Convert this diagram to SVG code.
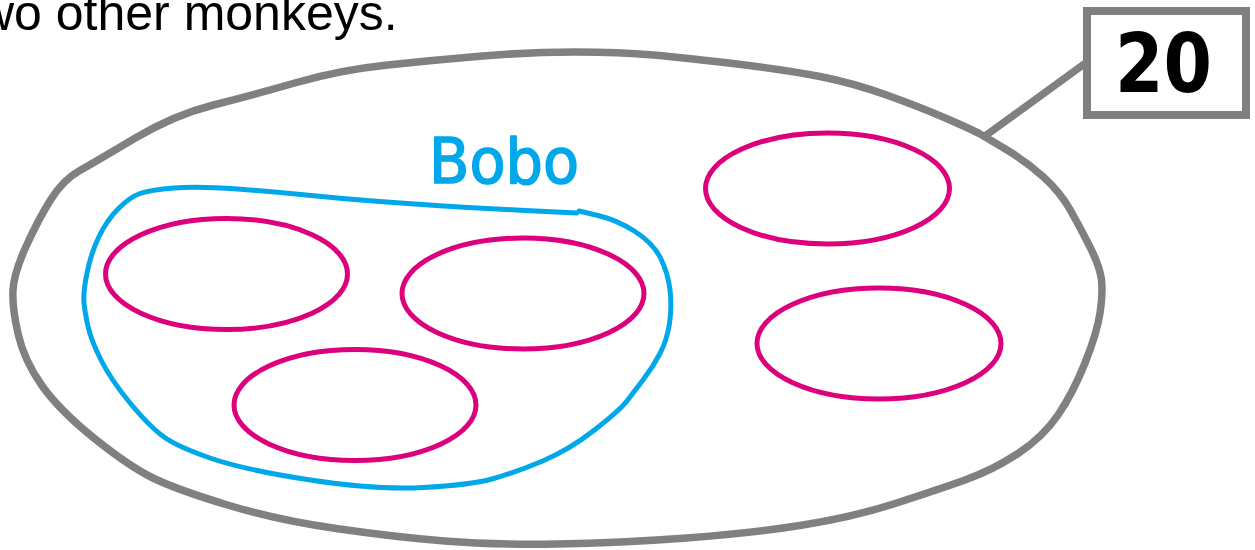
<svg xmlns="http://www.w3.org/2000/svg" width="1255" height="550" viewBox="0 0 1255 550">
<style>
.gray{fill:none;stroke:#808080;stroke-width:7.5;stroke-linejoin:round;stroke-linecap:round}
.blue{fill:none;stroke:#00A8EA;stroke-width:5;stroke-linejoin:round;stroke-linecap:round}
.pink{fill:none;stroke:#DC007D;stroke-width:5}
</style>
<rect width="1255" height="550" fill="#ffffff"/>
<text x="-22" y="30" font-family="Liberation Sans, Arial, sans-serif" font-size="50" fill="#000">wo other monkeys.</text>
<g id="connectors">
<line x1="985" y1="136" x2="1087" y2="62" class="gray"/>
</g>
<g id="group-all">
<path class="gray" d="M 653.5,55 Q 687,58 737,64 Q 787,70 820,76.5 Q 853,83 886.5,95 Q 920,107 946.5,118.5 Q 973,130 980,134 Q 987,138 1007,150 Q 1027,162 1043.5,177 Q 1060,192 1070,209.5 Q 1080,227 1090,247 Q 1100,267 1101.5,280 Q 1103,293 1100,313 Q 1097,333 1085,363 Q 1073,393 1058,415 Q 1043,437 1018,453.5 Q 993,470 965,480 Q 937,490 895,503.5 Q 853,517 803,525 Q 753,533 686.5,538 Q 620,543 557,544 Q 494,545 444.5,541 Q 395,537 336,528.5 Q 277,520 227.5,505 Q 178,490 154,478.5 Q 130,467 94.5,438.5 Q 59,410 41.5,385 Q 24,360 18,333.5 Q 12,307 13,290 Q 14,273 26,246.5 Q 38,220 50.5,200 Q 63,180 79,171 Q 95,162 134.5,138.5 Q 174,115 213.5,105 Q 253,95 296.5,82.5 Q 340,70 387.5,65 Q 435,60 482.5,56 Q 530,52 575,52 Q 620,52 653.5,55 Z"/>
</g>
<g id="bobo">
<path class="blue" d="M 579,211 L 598,215.5 Q 617,220 635,231.5 Q 653,243 660.5,258 Q 668,273 670,290 Q 672,307 669.5,323.5 Q 667,340 660,353.5 Q 653,367 643,380 Q 633,393 626.5,401.5 Q 620,410 594.5,430 Q 569,450 541.5,461.5 Q 514,473 492,479 Q 470,485 423,487.5 Q 376,490 310.5,480 Q 245,470 211.5,458.5 Q 178,447 164,437 Q 150,427 130.5,403.5 Q 111,380 101,360 Q 91,340 88,326.5 Q 85,313 84,303 Q 83,293 87,273 Q 91,253 99,236.5 Q 107,220 118.5,208.5 Q 130,197 140,193.5 Q 150,190 174,188 Q 198,186 237.5,189 Q 277,192 316.5,196 Q 356,200 415,204 Q 474,208 525.5,210.5 L 577,213"/>
<text x="429" y="183" font-family="DejaVu Sans, sans-serif" font-size="62" fill="#00A8EA" stroke="#00A8EA" stroke-width="1.6" stroke-linejoin="round" textLength="150" lengthAdjust="spacingAndGlyphs">Bobo</text>
</g>
<g id="monkey1"><ellipse class="pink" cx="226.5" cy="274" rx="121" ry="55.5"/></g>
<g id="monkey2"><ellipse class="pink" cx="523" cy="293.5" rx="121" ry="55.5"/></g>
<g id="monkey3"><ellipse class="pink" cx="355" cy="405" rx="121" ry="55.5"/></g>
<g id="monkey4"><ellipse class="pink" cx="827.5" cy="188.5" rx="122" ry="55.5"/></g>
<g id="monkey5"><ellipse class="pink" cx="879" cy="343.5" rx="122" ry="55.5"/></g>
<g id="count">
<rect x="1087" y="11" width="159" height="104" fill="#ffffff" stroke="#808080" stroke-width="8"/>
<text x="1115" y="92" font-family="DejaVu Sans, sans-serif" font-weight="bold" font-size="82" fill="#000" textLength="97" lengthAdjust="spacingAndGlyphs">20</text>
</g>
</svg>
